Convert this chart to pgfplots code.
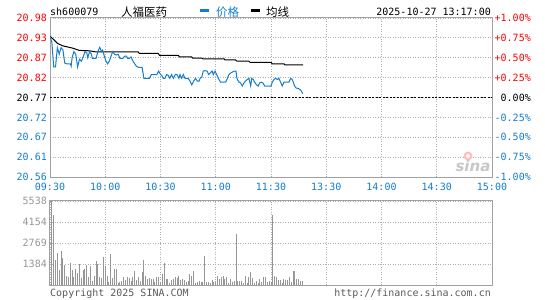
\documentclass[border=0pt]{standalone}
\usepackage{pgfplots}
\pgfplotsset{compat=1.18}
\usepackage{fontspec}
\setmainfont{DejaVu Sans Mono}
\newfontfamily\cjk{Noto Sans CJK SC}
\newfontfamily\logof{DejaVu Sans}
\definecolor{cblue}{RGB}{20,125,205}
\definecolor{cred}{RGB}{255,0,0}
\definecolor{cgrid}{RGB}{175,175,175}
\definecolor{cframe}{RGB}{160,160,160}
\definecolor{cbar}{RGB}{150,150,150}
\definecolor{ctext}{RGB}{90,90,90}
\begin{document}
\begin{tikzpicture}[every node/.style={font=\fontsize{10bp}{12bp}\selectfont, inner sep=0pt}]
\path[use as bounding box] (0,0) rectangle (545bp,-300bp);
\pgfplotsset{
  commonax/.style={
    scale only axis, width=442bp, xmin=0, xmax=240,
    axis line style={draw=cframe, line width=1bp},
    major tick length=0pt,
    grid=major,
    grid style={draw=cgrid, line width=0.8bp, dash pattern=on 1bp off 1.5bp},
    tick label style={font=\fontsize{10bp}{12bp}\selectfont},
    xtick={0,30,...,240},
    clip=true,
  }
}
% ---------- price panel ----------
\begin{axis}[commonax, at={(50bp,-177bp)}, anchor=south west, height=159bp,
  ymin=20.5623, ymax=20.9777,
  ytick={20.5623,20.6142,20.6662,20.7181,20.77,20.8219,20.8739,20.9258,20.9777},
  yticklabels={\textcolor{cblue}{20.56},\textcolor{cblue}{20.61},\textcolor{cblue}{20.67},\textcolor{cblue}{20.72},\textcolor{black}{20.77},\textcolor{cred}{20.82},\textcolor{cred}{20.87},\textcolor{cred}{20.93},\textcolor{cred}{20.98}},
  yticklabel style={anchor=east, xshift=-3bp},
  xticklabels={09:30,10:00,10:30,11:00,11:30,13:30,14:00,14:30,15:00},
  xticklabel style={text=cblue, anchor=north, yshift=-6bp},
]
\addplot[black, line width=0.9bp, dash pattern=on 2bp off 1.5bp] coordinates {(0,20.77) (240,20.77)};
% average line
\addplot[black, line width=1bp] coordinates {
(0,20.93)(2.3,20.92)(4.2,20.911)(6.9,20.905)(12.3,20.899)(15.9,20.893)(21.4,20.892)(25,20.889)
(47.9,20.889)(48.5,20.885)(58.8,20.885)(59.5,20.88)(69.7,20.88)(70.3,20.876)(76.9,20.876)
(77.5,20.873)(82.4,20.873)(83,20.871)(94.5,20.871)(95,20.868)(100.8,20.868)(101.5,20.865)
(108,20.865)(108.6,20.862)(120,20.862)(120.6,20.858)(127,20.858)(127.6,20.855)(137.5,20.855)};
% price line
\addplot[cblue, line width=1bp] coordinates {
(0,20.93)(1,20.915)(2,20.85)(3,20.85)(4,20.90)(5,20.883)(6,20.90)(7,20.895)(8,20.86)(9,20.858)
(10,20.858)(11,20.858)(11.5,20.852)(12,20.874)(13,20.89)(14,20.883)(15,20.85)(16,20.87)(17,20.865)
(18,20.876)(19,20.89)(20,20.887)(20.5,20.874)(21.5,20.89)(22.5,20.883)(23,20.872)(25,20.872)
(26,20.89)(27,20.901)(28,20.89)(28.6,20.894)(29.5,20.878)(30.4,20.865)(31.3,20.858)(32.2,20.865)
(33,20.876)(34,20.89)(35,20.883)(36,20.881)(37,20.883)(38,20.872)(39.5,20.872)(40.5,20.878)
(41.5,20.878)(42.2,20.872)(43,20.872)(44,20.876)(45,20.865)(46,20.858)(47,20.851)(48,20.849)
(50,20.849)(51,20.82)(54,20.82)(55,20.83)(58,20.83)(59,20.839)(60,20.83)(60.6,20.828)(61.5,20.82)
(62.4,20.82)(63.3,20.83)(64.2,20.828)(65.1,20.82)(66,20.83)(67,20.82)(68,20.83)(69,20.83)(70,20.82)
(70.6,20.83)(71.5,20.82)(72.4,20.83)(73.3,20.82)(75,20.82)(76,20.813)(77,20.803)(78,20.813)
(79,20.82)(80,20.813)(81,20.813)(81.5,20.82)(82.4,20.823)(83.2,20.839)(84,20.84)(85.4,20.839)
(86.1,20.83)(87,20.834)(88,20.839)(88.7,20.83)(89.6,20.839)(90.5,20.83)(91.4,20.82)(92.6,20.81)
(95.4,20.81)(96.3,20.82)(97.2,20.83)(98.1,20.834)(100,20.839)(101,20.839)(101.5,20.82)(102.6,20.81)
(103.5,20.808)(104.4,20.80)(105.3,20.808)(106.2,20.813)(107.1,20.817)(108,20.82)(108.5,20.81)
(109,20.80)(109.5,20.82)(110.4,20.817)(111.1,20.81)(112,20.804)(113,20.80)(113.8,20.808)
(114.7,20.81)(115.6,20.808)(116.6,20.80)(120,20.80)(120.7,20.81)(121.6,20.817)(122.5,20.82)
(123.4,20.817)(124.3,20.82)(125.2,20.81)(126.1,20.80)(127,20.81)(129.7,20.81)(130.7,20.82)
(131.5,20.817)(132.1,20.81)(132.8,20.80)(133.6,20.795)(135,20.793)(136,20.79)(137.3,20.78)};
\end{axis}
% ---------- volume panel ----------
\begin{axis}[commonax, at={(50bp,-285bp)}, anchor=south west, height=84bp,
  ymin=0, ymax=5538, ytick={1384,2769,4154,5538},
  yticklabel style={text=cbar, anchor=east, xshift=-3bp},
  yticklabels={1384,2769,4154,5538},
  xticklabels={},
]
\addplot[ycomb, draw=cbar, line width=1bp] coordinates {
(0,1933)(1,5538)(2,4636)(3,1670)(4,2109)(5,1010)(6,2263)(7,1780)(8,1340)(9,615)(10,549)(11,1472)
(12,1010)(13,527)(14,1076)(15,791)(16,1384)(17,461)(18,1010)(19,1076)(20,1340)(21,505)(22,1230)
(23,241)(24,615)(25,1604)(26,1406)(27,549)(28,461)(29,1867)(30,1230)(31,571)(32,220)(33,2065)
(34,461)(35,1076)(36,1076)(37,132)(38,198)(39,286)(40,549)(41,330)(42,505)(43,483)(44,241)
(45,505)(46,945)(47,352)(48,549)(49,286)(50,857)(51,1670)(52,615)(53,417)(54,483)(55,417)
(56,417)(57,198)(58,505)(59,549)(60,198)(61,747)(62,1450)(63,417)(64,417)(65,154)(66,352)
(67,417)(68,549)(69,483)(70,615)(71,352)(72,417)(73,330)(74,198)(75,286)(76,747)(77,615)
(78,945)(79,132)(80,198)(81,286)(82,198)(83,198)(84,1933)(85,198)(86,198)(87,132)(88,352)
(89,198)(90,286)(91,615)(92,417)(93,505)(94,615)(95,417)(96,549)(97,154)(98,417)(99,198)
(100,286)(101,3383)(102,286)(103,286)(104,286)(105,132)(106,615)(107,154)(108,549)(109,857)
(110,461)(111,154)(112,286)(113,154)(114,417)(115,198)(116,549)(117,505)(118,198)(119,286)
(120,198)(121,4636)(122,615)(123,549)(124,330)(125,330)(126,154)(127,417)(128,352)(129,352)
(130,505)(131,198)(132,945)(133,901)(134,417)(135,374)(136,286)(137,286)};
\end{axis}
% ---------- right percentage labels ----------
\foreach \lab/\col/\k in {+1.00\%/cred/0,+0.75\%/cred/1,+0.50\%/cred/2,+0.25\%/cred/3,0.00\%/black/4,-0.25\%/cblue/5,-0.50\%/cblue/6,-0.75\%/cblue/7,-1.00\%/cblue/8}{
  \node[anchor=east, text=\col] at (531bp,{-18bp-\k*19.875bp}) {\lab};
}
% ---------- header ----------
\node[anchor=base west] at (50bp,-15bp) {sh600079};
\node[anchor=base west, font=\cjk\fontsize{11.5bp}{13bp}\selectfont] at (121bp,-16bp) {人福医药};
\fill[cblue] (200bp,-9.3bp) rectangle (209bp,-12.3bp);
\node[anchor=base west, text=cblue, font=\cjk\fontsize{11.5bp}{13bp}\selectfont] at (216bp,-16bp) {价格};
\fill[black] (251bp,-9.3bp) rectangle (260bp,-12.3bp);
\node[anchor=base west, font=\cjk\fontsize{11.5bp}{13bp}\selectfont] at (266bp,-16bp) {均线};
\node[anchor=base east] at (491bp,-15bp) {2025-10-27 13:17:00};
% ---------- footer ----------
\node[anchor=base west, text=ctext] at (50bp,-296bp) {Copyright 2025 SINA.COM};
\node[anchor=base east, text=ctext] at (491bp,-296bp) {http://finance.sina.com.cn};
% ---------- watermark ----------
\fill[red!25] (468bp,-156bp) circle (4.5bp);
\fill[white] (468bp,-156bp) circle (2bp);
\node[anchor=base, text=black!22, font=\logof\bfseries\itshape\fontsize{15bp}{16bp}\selectfont] at (473bp,-171bp) {sina};
\end{tikzpicture}
\end{document}
